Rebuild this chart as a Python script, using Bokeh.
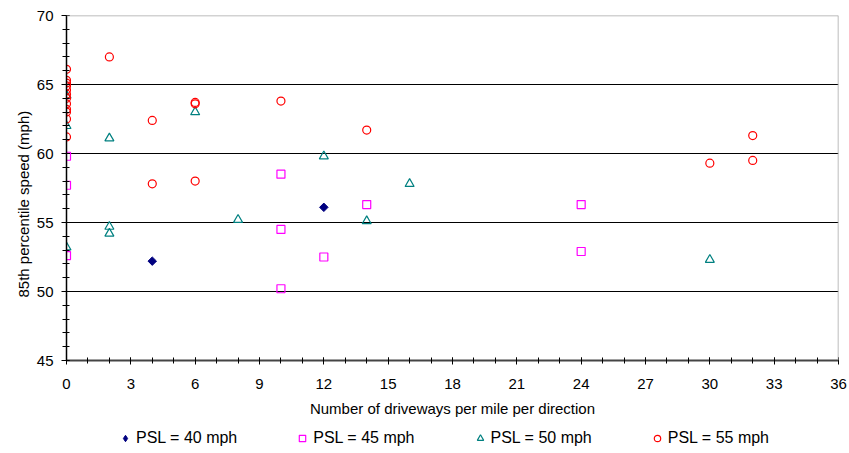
import math
from bokeh.plotting import figure
from bokeh.layouts import column
from bokeh.models import (SingleIntervalTicker, FixedTicker, Span, Legend, LegendItem,
                          Title, Range1d)
from bokeh.embed import file_html
from bokeh.resources import INLINE

# ---- data ----
psl40_x = [4, 12]
psl40_y = [52.2, 56.1]

psl45_x = [0, 0, 0, 10, 10, 10, 12, 14, 24, 24]
psl45_y = [59.8, 57.7, 52.6, 58.5, 54.5, 50.2, 52.5, 56.3, 56.3, 52.9]

psl50_x = [0, 0, 0, 2, 2, 2, 6, 8, 12, 14, 16, 30]
psl50_y = [64.2, 62.0, 53.2, 61.1, 54.7, 54.2, 63.0, 55.2, 59.8, 55.1, 57.8, 52.3]

psl55_x = [0, 0, 0, 0, 0, 0, 0, 0, 0, 0, 0, 0, 2, 4, 4, 6, 6, 6, 10, 14, 30, 32, 32]
psl55_y = [66.1, 65.3, 65.1, 64.9, 64.6, 64.3, 64.0, 63.6, 63.2, 63.0, 62.5, 61.2,
           67.0, 62.4, 57.8, 63.7, 63.6, 58.0, 63.8, 61.7, 59.3, 61.3, 59.5]

legend_labels = ["PSL = 40 mph", "PSL = 45 mph", "PSL = 50 mph", "PSL = 55 mph"]
x_title = "Number of driveways per mile per direction"
y_title = "85th percentile speed (mph)"

FONT = "Liberation Sans"

styles = [
    dict(marker="square", angle=math.pi / 4, size=6, fill_color="#000080", line_color="#000080"),
    dict(marker="square", size=8, fill_color=None, line_color="#ff00ff", line_width=1.2),
    dict(marker="triangle", size=9, fill_color=None, line_color="#008080", line_width=1.2),
    dict(marker="circle", size=8, fill_color=None, line_color="#ff0000", line_width=1.2),
]

p = figure(width=849, height=420, output_backend="svg", toolbar_location=None,
           x_range=Range1d(0, 36), y_range=Range1d(45, 70),
           min_border_left=66, min_border_right=11, min_border_top=15, min_border_bottom=60)
p.outline_line_color = None
p.background_fill_color = "white"
p.border_fill_color = "white"

# axes
p.xaxis.ticker = SingleIntervalTicker(interval=3, num_minor_ticks=3)
p.yaxis.ticker = SingleIntervalTicker(interval=5, num_minor_ticks=5)
for ax in (p.xaxis[0], p.yaxis[0]):
    ax.major_label_text_font = FONT
    ax.major_label_text_font_size = "15px"
    ax.major_label_text_color = "black"
    ax.axis_label_text_font = FONT
    ax.axis_label_text_font_size = "15px"
    ax.axis_label_text_font_style = "normal"
    ax.axis_label_text_color = "black"
    ax.major_tick_line_color = "black"
    ax.minor_tick_line_color = "black"

p.xaxis.axis_line_color = "#444444"
p.xaxis.axis_line_width = 2
p.xaxis.major_tick_in = 3
p.xaxis.major_tick_out = 4
p.xaxis.minor_tick_in = 3
p.xaxis.minor_tick_out = 3
p.xaxis.major_label_standoff = 14
p.xaxis.axis_label = x_title
p.xaxis.axis_label_standoff = 8

p.yaxis.axis_line_color = "black"
p.yaxis.axis_line_width = 1.5
p.yaxis.major_tick_in = 3
p.yaxis.major_tick_out = 5
p.yaxis.minor_tick_in = 3
p.yaxis.minor_tick_out = 4
p.yaxis.major_label_standoff = 8

# grid
p.xgrid.grid_line_color = None
p.ygrid.ticker = FixedTicker(ticks=[50, 55, 60, 65])
p.ygrid.grid_line_color = "black"
p.ygrid.grid_line_width = 1

# plot area borders (top / right)
p.add_layout(Span(location=70, dimension="width", line_color="#a6a6a6", line_width=1.5))
p.add_layout(Span(location=36, dimension="height", line_color="#a6a6a6", line_width=1.5))

# y title as side title, offset along the axis like the reference
p.add_layout(Title(text=y_title, align="left", offset=63, standoff=4,
                   text_font=FONT, text_font_size="15px", text_font_style="normal",
                   text_color="black"), "left")

series = [(psl40_x, psl40_y), (psl45_x, psl45_y), (psl50_x, psl50_y), (psl55_x, psl55_y)]
for (xs, ys), st in zip(series, styles):
    p.scatter(xs, ys, **st)

# ---- legend strip (separate figure below the chart) ----
# the same series are drawn here, but fall outside this strip's ranges; only the legend shows
lg = figure(width=849, height=33, output_backend="svg", toolbar_location=None,
            x_range=Range1d(0, 1), y_range=Range1d(0, 1),
            min_border_left=0, min_border_right=0, min_border_top=0, min_border_bottom=0)
lg.axis.visible = False
lg.grid.visible = False
lg.outline_line_color = None
lg.background_fill_color = "white"
lg.border_fill_color = "white"
items = []
for i, (lab, (xs, ys), st) in enumerate(zip(legend_labels, series, styles)):
    st = dict(st)
    if i == 0:
        st.pop("angle")
        st["marker"] = "diamond"
    r = lg.scatter(xs, ys, **st)
    items.append(LegendItem(label=lab, renderers=[r]))
legend = Legend(items=items, orientation="horizontal", location=(51, 5),
                border_line_color=None, background_fill_alpha=0,
                padding=0, margin=0, spacing=57,
                glyph_width=16, glyph_height=16, label_standoff=3,
                label_text_font=FONT, label_text_font_size="16px",
                label_text_color="black", label_height=20)
lg.add_layout(legend, "center")

layout = column(p, lg, spacing=0)
open("out.html", "w").write(file_html(layout, INLINE))
